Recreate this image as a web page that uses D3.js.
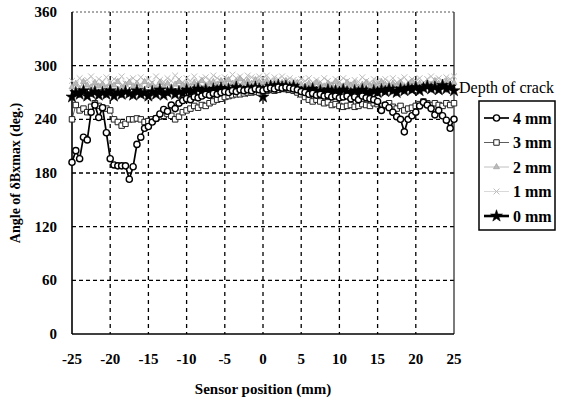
<!DOCTYPE html>
<html>
<head>
<meta charset="utf-8">
<script src="https://cdn.jsdelivr.net/npm/d3@7"></script>
<style>
  body { margin: 0; background: #fff; }
  text { font-family: "Liberation Serif", "Times New Roman", serif; }
</style>
</head>
<body>
<div id="chart"></div>
<script>
// sensor positions, 0.5 mm step
let positions = d3.range(-25, 25.001, 0.5);

let xTicks = [-25, -20, -15, -10, -5, 0, 5, 10, 15, 20, 25];
let yTicks = [0, 60, 120, 180, 240, 300, 360];

let depth4 = [
    192, 205, 196, 220, 217, 248, 256, 242, 253, 225,
    196, 189, 188, 188, 188, 173, 187, 212, 220, 230,
    232, 237, 241, 246, 251, 249, 256, 252, 258, 261,
    263, 262, 265, 264, 266, 268, 267, 269, 268, 270,
    271, 270, 272, 271, 273, 272, 273, 272, 274, 273,
    272, 274, 275, 274, 276, 275, 276, 275, 274, 273,
    271, 270, 268, 269, 267, 268, 266, 267, 265, 266,
    264, 265, 266, 263, 265, 262, 266, 264, 263, 262,
    260, 250, 256, 253, 248, 243, 240, 226, 240, 244,
    248, 255, 259, 256, 252, 245, 250, 244, 239, 230,
    240
];
let depth3 = [
    240, 256, 250, 252, 248, 254, 258, 255, 253, 252,
    250, 240, 237, 233, 235, 240, 240, 241, 240, 237,
    238, 240, 241, 243, 244, 246, 244, 240, 243, 248,
    250, 252, 255, 253, 256, 255, 258, 260, 262, 263,
    265, 266, 267, 268, 268, 269, 270, 270, 271, 270,
    271, 272, 273, 272, 273, 274, 274, 273, 272, 270,
    268, 265, 262, 260, 262, 260, 258, 259, 256, 257,
    255, 254, 255, 256, 254, 255, 257, 256, 255, 258,
    257, 255, 256, 258, 254, 252, 255, 250, 252, 253,
    255, 257, 260, 258, 256, 258, 256, 255, 258, 256,
    258
];
let depth2 = [
    276, 280, 274, 282, 278, 276, 281, 277, 279, 275,
    280, 278, 282, 276, 279, 281, 277, 280, 276, 282,
    278, 279, 275, 281, 277, 280, 276, 279, 282, 278,
    280, 277, 281, 279, 283, 278, 280, 282, 279, 283,
    281, 284, 280, 282, 285, 281, 283, 280, 284, 282,
    281, 283, 280, 282, 279, 281, 283, 280, 278, 281,
    279, 277, 280, 278, 281, 279, 277, 280, 278, 282,
    279, 277, 281, 278, 280, 276, 279, 281, 277, 280,
    278, 282, 279, 276, 280, 278, 281, 277, 279, 282,
    278, 280, 277, 281, 279, 283, 280, 278, 282, 279,
    281
];
let depth1 = [
    283, 279, 286, 281, 284, 288, 280, 285, 282, 287,
    281, 285, 283, 288, 280, 284, 286, 282, 287, 283,
    285, 281, 288, 284, 282, 286, 283, 289, 285, 281,
    286, 283, 288, 282, 285, 287, 284, 289, 286, 283,
    287, 285, 290, 286, 288, 284, 289, 287, 285, 288,
    286, 289, 284, 287, 285, 288, 283, 286, 284, 282,
    285, 283, 286, 281, 284, 282, 286, 283, 280, 285,
    282, 286, 283, 280, 284, 282, 287, 283, 281, 285,
    283, 280, 285, 282, 286, 281, 284, 287, 282, 285,
    283, 286, 281, 285, 288, 284, 286, 283, 287, 285,
    288
];
let depth0 = [
    265, 270, 268, 272, 266, 269, 271, 267, 270, 268,
    272, 266, 270, 268, 271, 269, 267, 272, 268, 270,
    266, 271, 268, 273, 267, 270, 272, 268, 271, 269,
    273, 270, 272, 274, 271, 273, 270, 274, 272, 275,
    268, 274, 272, 276, 273, 271, 275, 273, 276, 274,
    265, 275, 277, 276, 278, 276, 277, 275, 277, 274,
    270, 273, 271, 274, 270, 272, 269, 273, 271, 272,
    270, 273, 271, 269, 272, 270, 273, 271, 268, 272,
    270, 273, 271, 274, 272, 270, 274, 272, 275, 273,
    276, 272, 275, 277, 274, 276, 273, 278, 274, 276,
    272
];

let seriesNames = ['4 mm', '3 mm', '2 mm', '1 mm', '0 mm'];
let seriesValues = [depth4, depth3, depth2, depth1, depth0];

let chart_width = 566;
let chart_height = 404;
let plotLeft = 72, plotRight = 454, plotTop = 12, plotBottom = 334;

let svg = d3.select('#chart')
    .append('svg')
    .attr('width', chart_width)
    .attr('height', chart_height);

svg.append('rect')
    .attr('width', chart_width)
    .attr('height', chart_height)
    .attr('fill', '#fff');

let xScale = d3.scaleLinear().domain([-25, 25]).range([plotLeft, plotRight]);
let yScale = d3.scaleLinear().domain([0, 360]).range([plotBottom, plotTop]);

// dashed grid
svg.append('g')
    .selectAll('line')
    .data(xTicks.slice(1, -1))
    .enter()
    .append('line')
    .attr('x1', d => xScale(d)).attr('x2', d => xScale(d))
    .attr('y1', plotTop).attr('y2', plotBottom)
    .attr('stroke', '#000')
    .attr('stroke-width', 1.3)
    .attr('stroke-dasharray', '4,4');

svg.append('g')
    .selectAll('line')
    .data(yTicks.slice(1, -1))
    .enter()
    .append('line')
    .attr('x1', plotLeft).attr('x2', plotRight)
    .attr('y1', d => yScale(d)).attr('y2', d => yScale(d))
    .attr('stroke', '#000')
    .attr('stroke-width', 1.3)
    .attr('stroke-dasharray', '4,3');

// frame
svg.append('line')
    .attr('x1', plotLeft).attr('x2', plotRight).attr('y1', plotTop).attr('y2', plotTop)
    .attr('stroke', '#555').attr('stroke-dasharray', '2,2');
svg.append('line')
    .attr('x1', plotRight).attr('x2', plotRight).attr('y1', plotTop).attr('y2', plotBottom)
    .attr('stroke', '#222').attr('stroke-width', 1.2);
svg.append('line')
    .attr('x1', plotLeft).attr('x2', plotLeft).attr('y1', plotTop).attr('y2', plotBottom)
    .attr('stroke', '#000').attr('stroke-width', 1.6);
svg.append('line')
    .attr('x1', plotLeft).attr('x2', plotRight).attr('y1', plotBottom).attr('y2', plotBottom)
    .attr('stroke', '#000').attr('stroke-width', 1.6);

// styles per series (4, 3, 2, 1, 0 mm)
let styles = [
    { line: '#000', lw: 1.7, sym: d3.symbolCircle, size: 30, fill: '#fff', stroke: '#000', sw: 1.4 },
    { line: '#333', lw: 0.8, sym: d3.symbolSquare, size: 30, fill: '#fff', stroke: '#222', sw: 1 },
    { line: '#b0b0b0', lw: 0.8, sym: d3.symbolTriangle, size: 16, fill: '#bbb', stroke: '#999', sw: 0.6 },
    { line: '#cfcfcf', lw: 0.8, sym: d3.symbolTimes, size: 24, fill: 'none', stroke: '#bdbdbd', sw: 1 },
    { line: '#000', lw: 2.6, sym: d3.symbolStar, size: 44, fill: '#000', stroke: '#000', sw: 0.6 }
];

let line = d3.line()
    .x((d, i) => xScale(positions[i]))
    .y(d => yScale(d));

// draw light series first, then black band, then 3 mm and 4 mm on top
let order = [3, 2, 4, 1, 0];
order.forEach(function(k) {
    let st = styles[k];
    let g = svg.append('g');
    g.append('path')
        .datum(seriesValues[k])
        .attr('d', line)
        .attr('fill', 'none')
        .attr('stroke', st.line)
        .attr('stroke-width', st.lw);
    g.selectAll('path.m')
        .data(seriesValues[k])
        .enter()
        .append('path')
        .attr('class', 'm')
        .attr('d', d3.symbol().type(st.sym).size(st.size))
        .attr('transform', (d, i) => 'translate(' + xScale(positions[i]) + ',' + yScale(d) + ')')
        .attr('fill', st.fill)
        .attr('stroke', st.stroke)
        .attr('stroke-width', st.sw);
});

// tick labels
svg.append('g')
    .selectAll('text')
    .data(yTicks)
    .enter()
    .append('text')
    .text(d => d)
    .attr('x', 57)
    .attr('y', d => yScale(d) + 5)
    .attr('text-anchor', 'end')
    .attr('font-size', 15)
    .attr('font-weight', 'bold');

svg.append('g')
    .selectAll('text')
    .data(xTicks)
    .enter()
    .append('text')
    .text(d => d)
    .attr('x', d => xScale(d))
    .attr('y', 364)
    .attr('text-anchor', 'middle')
    .attr('font-size', 15)
    .attr('font-weight', 'bold');

// axis titles
svg.append('text')
    .text('Sensor position (mm)')
    .attr('x', (plotLeft + plotRight) / 2)
    .attr('y', 394)
    .attr('text-anchor', 'middle')
    .attr('font-size', 15)
    .attr('font-weight', 'bold');

svg.append('text')
    .text('Angle of \u03B4Bxmax (deg.)')
    .attr('transform', 'translate(20,' + (yScale(180)) + ') rotate(-90)')
    .attr('text-anchor', 'middle')
    .attr('font-size', 14)
    .attr('font-weight', 'bold');

// legend
svg.append('text')
    .text('Depth of crack')
    .attr('x', 459)
    .attr('y', 93)
    .attr('font-size', 16);

let lgX = 479, lgY = 101, lgW = 76, lgH = 129, lgStep = 24.5;
svg.append('rect')
    .attr('x', lgX).attr('y', lgY)
    .attr('width', lgW).attr('height', lgH)
    .attr('fill', '#fff')
    .attr('stroke', '#000')
    .attr('stroke-width', 1.5);

let lg = svg.append('g')
    .selectAll('g')
    .data(seriesNames)
    .enter()
    .append('g')
    .attr('transform', (d, i) => 'translate(' + lgX + ',' + (lgY + 17 + i * lgStep) + ')');

lg.append('line')
    .attr('x1', 5).attr('x2', 30).attr('y1', 0).attr('y2', 0)
    .attr('stroke', (d, i) => styles[i].line)
    .attr('stroke-width', (d, i) => styles[i].lw);
lg.append('path')
    .attr('d', (d, i) => d3.symbol().type(styles[i].sym).size(styles[i].size)())
    .attr('transform', 'translate(17.5,0)')
    .attr('fill', (d, i) => styles[i].fill)
    .attr('stroke', (d, i) => styles[i].stroke)
    .attr('stroke-width', (d, i) => styles[i].sw);
lg.append('text')
    .text(d => d)
    .attr('x', 34)
    .attr('y', 5.5)
    .attr('font-size', 16)
    .attr('font-weight', 'bold');
</script>
</body>
</html>
